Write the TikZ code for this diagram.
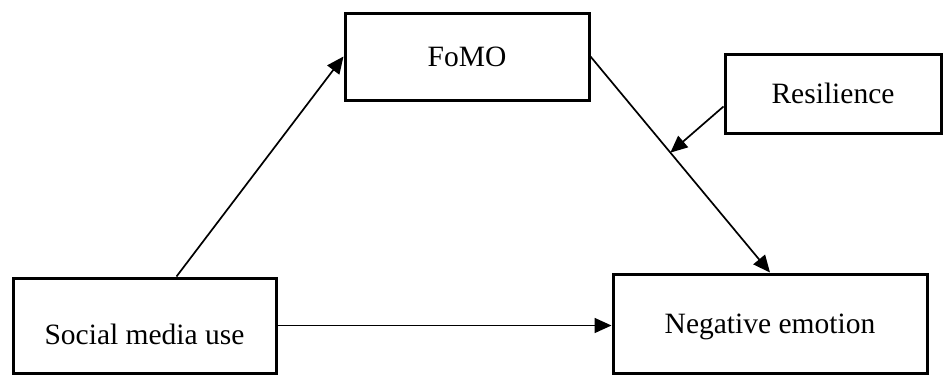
\documentclass[tikz,border=0pt]{standalone}
\usepackage{fontspec}
\setmainfont{Liberation Serif}
\usetikzlibrary{arrows.meta,calc}
\tikzset{
  box/.style={draw=black, line width=3pt, rectangle, inner sep=0pt, font=\fontsize{29.5}{35}\selectfont},
  link/.style={line width=1.7pt, -{Triangle[length=17pt,width=15pt]}}
}
\begin{document}
\begin{tikzpicture}[x=1pt,y=-1pt]
\useasboundingbox (0,0) rectangle (943,375);
\node[box, minimum width=244pt, minimum height=87pt] (fomo) at (467,56.5) {FoMO};
\node[box, minimum width=216pt, minimum height=79pt] (res) at (833,93.5) {Resilience};
\node[box, minimum width=263pt, minimum height=95pt] (soc) at (144.5,325.5) {\raisebox{-9pt}[\height][\depth]{Social media use}};
\node[box, minimum width=314pt, minimum height=99pt] (ne) at (770,323.5) {\raisebox{-3pt}[\height][\depth]{Negative emotion}};
\coordinate (mid) at ($(fomo.east)!0.445!(ne.north)$);
\draw[link] ([xshift=165pt]soc.north west) -- (fomo.west);
\draw[link] (fomo.east) -- (ne.north);
\draw[link] ([yshift=-13pt]res.west) -- (mid);
\draw[link] (soc.east) -- (soc.east -| ne.west);
\end{tikzpicture}
\end{document}
